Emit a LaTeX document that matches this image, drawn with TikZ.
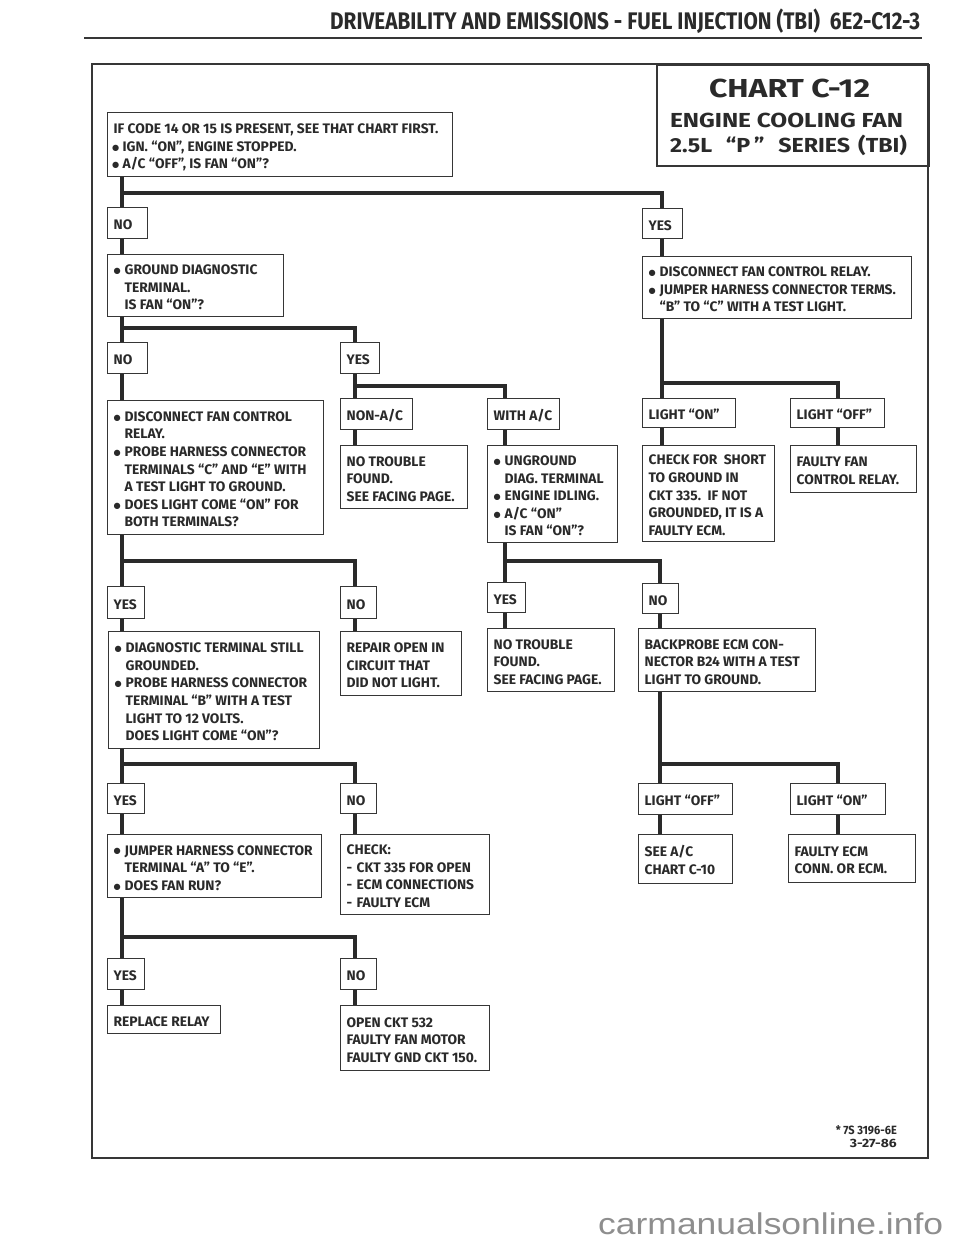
\documentclass[tikz,border=0pt]{standalone}
\usepackage{fontspec}
\usepackage{graphicx}
\setmainfont{Fira Sans}
\newfontfamily\wmfont{Liberation Sans}
\newfontfamily\symf{DejaVu Sans}
\definecolor{ink}{HTML}{2A2A2A}
\definecolor{frm}{HTML}{363636}
\definecolor{wmgray}{HTML}{8E8E8E}
\makeatletter
\newcommand{\fitw}[2]{\sbox0{#2}\scalebox{\fpeval{#1/\strip@pt\wd0}}[1]{\usebox0}}
\makeatother
\newcommand{\bodyf}{\fontsize{13.8}{17.6}\selectfont\bfseries}
\newcommand{\bdot}{\raisebox{1.1pt}{\symf\fontsize{8.2}{9}\selectfont ●}}
\newcommand{\bl}{\makebox[11pt][l]{\hspace{0pt}\bdot}}
\newcommand{\sbl}{\makebox[9pt][l]{\hspace{-1.5pt}\bdot}}
\newcommand{\ind}{\hspace*{11pt}}
\newcommand{\dsh}{\makebox[10pt][l]{-}}
\tikzset{
  box/.style={draw=frm, line width=1.3pt, fill=white, anchor=north west,
    inner xsep=6pt, inner ysep=0pt, text=ink, font=\bodyf},
  conn/.style={draw=ink, line width=3.8pt, line join=miter},
  plain/.style={inner sep=0pt, text=ink}
}
\newcommand{\bx}[6]{\node[box,minimum width=#4pt,minimum height=#5pt] (#1) at (#2,#3)
  {\raisebox{-3pt}[\height][\depth]{\makebox[\fpeval{#4-12}pt][l]{\begin{tabular}{@{}l@{}}#6\end{tabular}}}};}
\begin{document}
\begin{tikzpicture}[x=1pt,y=-1pt]
\useasboundingbox[fill=white] (0,0) rectangle (960,1242);
% header
\node[plain, anchor=base west, font=\fontsize{24}{28}\selectfont\bfseries] (hdr) at (330,29)
  {\fitw{590}{DRIVEABILITY AND EMISSIONS - FUEL INJECTION (TBI)\ \ 6E2-C12-3}};
\draw[draw=frm, line width=2.5pt] (84,38) -- (922,38);
% frame
\draw[draw=frm, line width=2.6pt] (92,64) rectangle (928,1158);
% title
\node[draw=frm, line width=1.6pt, anchor=north west, minimum width=272pt, minimum height=101pt, inner sep=0pt] (title) at (656,64) {};
\node[plain, anchor=base, font=\fontsize{26}{30}\selectfont\bfseries] (t1) at (789.5,97) {\fitw{161}{CHART C-12}};
\node[plain, anchor=base, font=\fontsize{20.3}{24}\selectfont\bfseries] (t2) at (786.5,127) {\fitw{233}{ENGINE COOLING FAN}};
\node[plain, anchor=base, font=\fontsize{20.3}{24}\selectfont\bfseries] (t3) at (788.5,152) {\fitw{237}{2.5L\hspace{12pt}“P\,”\hspace{12pt}SERIES\hspace{7pt}(TBI)}};
% boxes
\bx{top}{107}{112}{345}{64}{IF CODE 14 OR 15 IS PRESENT, SEE THAT CHART FIRST.\\ \sbl IGN. “ON”, ENGINE STOPPED.\\ \sbl A/C “OFF”, IS FAN “ON”?}
\bx{no1}{107}{207}{40}{31}{NO}
\bx{yes1}{642}{208}{40}{30}{YES}
\bx{gdiag}{107}{254}{176}{62}{\bl GROUND DIAGNOSTIC\\ \ind TERMINAL.\\ \ind IS FAN “ON”?}
\bx{disrelay}{642}{256}{269}{62}{\bl DISCONNECT FAN CONTROL RELAY.\\ \bl JUMPER HARNESS CONNECTOR TERMS.\\ \ind “B” TO “C” WITH A TEST LIGHT.}
\bx{no2}{107}{342}{40}{31}{NO}
\bx{yes2}{340}{342}{39}{31}{YES}
\bx{disc}{107}{400}{216}{134}{\bl DISCONNECT FAN CONTROL\\ \ind RELAY.\\ \bl PROBE HARNESS CONNECTOR\\ \ind TERMINALS “C” AND “E” WITH\\ \ind A TEST LIGHT TO GROUND.\\ \bl DOES LIGHT COME “ON” FOR\\ \ind BOTH TERMINALS?}
\bx{nonac}{340}{398}{72}{31}{NON-A/C}
\bx{withac}{487}{398}{72}{31}{WITH A/C}
\bx{lon1}{642}{398}{93}{29}{LIGHT “ON”}
\bx{loff1}{790}{398}{94}{29}{LIGHT “OFF”}
\bx{ntf1}{340}{445}{127}{63}{NO TROUBLE\\ FOUND.\\ SEE FACING PAGE.}
\bx{unground}{487}{445}{130}{97}{\bl UNGROUND\\ \ind DIAG. TERMINAL\\ \bl ENGINE IDLING.\\ \bl A/C “ON”\\ \ind IS FAN “ON”?}
\bx{short}{642}{445}{132}{96}{CHECK FOR\ \ SHORT\\ TO GROUND IN\\ CKT 335.\ \ IF NOT\\ GROUNDED, IT IS A\\ FAULTY ECM.}
\bx{ffan}{790}{445}{126}{47}{FAULTY FAN\\ CONTROL RELAY.}
\bx{yes3}{107}{586}{37}{32}{YES}
\bx{no3}{340}{586}{36}{32}{NO}
\bx{yes4}{487}{582}{38}{30}{YES}
\bx{no4}{642}{583}{36}{30}{NO}
\bx{diagterm}{108}{631}{211}{117}{\bl DIAGNOSTIC TERMINAL STILL\\ \ind GROUNDED.\\ \bl PROBE HARNESS CONNECTOR\\ \ind TERMINAL “B” WITH A TEST\\ \ind LIGHT TO 12 VOLTS.\\ \ind DOES LIGHT COME “ON”?}
\bx{repair}{340}{631}{121}{64}{REPAIR OPEN IN\\ CIRCUIT THAT\\ DID NOT LIGHT.}
\bx{ntf2}{487}{628}{127}{63}{NO TROUBLE\\ FOUND.\\ SEE FACING PAGE.}
\bx{backprobe}{638}{628}{177}{63}{BACKPROBE ECM CON-\\ NECTOR B24 WITH A TEST\\ LIGHT TO GROUND.}
\bx{yes5}{107}{783}{37}{30}{YES}
\bx{no5}{340}{783}{36}{30}{NO}
\bx{loff2}{638}{783}{94}{31}{LIGHT “OFF”}
\bx{lon2}{790}{783}{95}{31}{LIGHT “ON”}
\bx{jumper}{107}{834}{214}{63}{\bl JUMPER HARNESS CONNECTOR\\ \ind TERMINAL “A” TO “E”.\\ \bl DOES FAN RUN?}
\bx{check}{340}{834}{149}{80}{CHECK:\\ \dsh CKT 335 FOR OPEN\\ \dsh ECM CONNECTIONS\\ \dsh FAULTY ECM}
\bx{seeac}{638}{834}{94}{49}{SEE A/C\\ CHART C-10}
\bx{fecm}{788}{834}{127}{48}{FAULTY ECM\\ CONN. OR ECM.}
\bx{yes6}{107}{958}{37}{31}{YES}
\bx{no6}{340}{958}{36}{31}{NO}
\bx{replace}{107}{1005}{113}{28}{REPLACE RELAY}
\bx{openckt}{340}{1005}{149}{65}{OPEN CKT 532\\ FAULTY FAN MOTOR\\ FAULTY GND CKT 150.}
% columns and junctions
\coordinate (cA) at (122,0);
\coordinate (cB) at (355,0);
\coordinate (cC) at (505,0);
\coordinate (cD) at (662,0);
\coordinate (cDl) at (660,0);
\coordinate (cE) at (838,0);
\coordinate (j1) at (122,193);
\coordinate (j2) at (122,328);
\coordinate (j3) at (355,386);
\coordinate (j4) at (662,383);
\coordinate (j5) at (122,561);
\coordinate (j6) at (505,561);
\coordinate (j7) at (122,764);
\coordinate (j8) at (660,764);
\coordinate (j9) at (122,937);
% connectors
\draw[conn] (top.south -| cA) -- (no1.north -| cA);
\draw[conn] (j1) -| (yes1.north -| cD);
\draw[conn] (no1.south -| cA) -- (gdiag.north -| cA);
\draw[conn] (yes1.south -| cD) -- (disrelay.north -| cD);
\draw[conn] (gdiag.south -| cA) -- (no2.north -| cA);
\draw[conn] (j2) -| (yes2.north -| cB);
\draw[conn] (no2.south -| cA) -- (disc.north -| cA);
\draw[conn] (yes2.south -| cB) -- (nonac.north -| cB);
\draw[conn] (j3) -| (withac.north -| cC);
\draw[conn] (nonac.south -| cB) -- (ntf1.north -| cB);
\draw[conn] (withac.south -| cC) -- (unground.north -| cC);
\draw[conn] (disrelay.south -| cD) -- (lon1.north -| cD);
\draw[conn] (j4) -| (loff1.north -| cE);
\draw[conn] (lon1.south -| cD) -- (short.north -| cD);
\draw[conn] (loff1.south -| cE) -- (ffan.north -| cE);
\draw[conn] (disc.south -| cA) -- (yes3.north -| cA);
\draw[conn] (j5) -| (no3.north -| cB);
\draw[conn] (yes3.south -| cA) -- (diagterm.north -| cA);
\draw[conn] (no3.south -| cB) -- (repair.north -| cB);
\draw[conn] (unground.south -| cC) -- (yes4.north -| cC);
\draw[conn] (j6) -| (no4.north -| cDl);
\draw[conn] (yes4.south -| cC) -- (ntf2.north -| cC);
\draw[conn] (no4.south -| cDl) -- (backprobe.north -| cDl);
\draw[conn] (diagterm.south -| cA) -- (yes5.north -| cA);
\draw[conn] (j7) -| (no5.north -| cB);
\draw[conn] (yes5.south -| cA) -- (jumper.north -| cA);
\draw[conn] (no5.south -| cB) -- (check.north -| cB);
\draw[conn] (backprobe.south -| cDl) -- (loff2.north -| cDl);
\draw[conn] (j8) -| (lon2.north -| cE);
\draw[conn] (loff2.south -| cDl) -- (seeac.north -| cDl);
\draw[conn] (lon2.south -| cE) -- (fecm.north -| cE);
\draw[conn] (jumper.south -| cA) -- (yes6.north -| cA);
\draw[conn] (j9) -| (no6.north -| cB);
\draw[conn] (yes6.south -| cA) -- (replace.north -| cA);
\draw[conn] (no6.south -| cB) -- (openckt.north -| cB);
% footer
\node[plain, anchor=base east, font=\fontsize{12}{13}\selectfont\bfseries] (fn1) at (897,1134) {\fitw{61}{* 7S 3196-6E}};
\node[plain, anchor=base east, font=\fontsize{12}{13}\selectfont\bfseries] (fn2) at (897,1147) {\fitw{47}{3-27-86}};
% watermark
\node[inner sep=0pt, anchor=base west, text=wmgray, font=\wmfont\fontsize{30}{36}\selectfont] (wm) at (598,1234) {\fitw{345}{carmanualsonline.info}};
\end{tikzpicture}
\end{document}
